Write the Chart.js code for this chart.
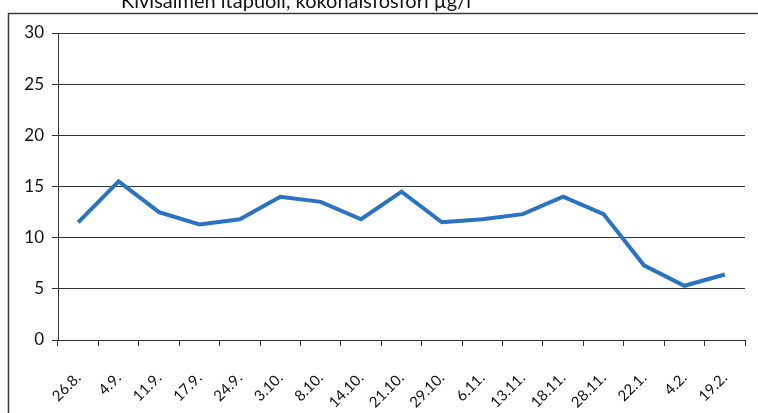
<!DOCTYPE html>
<html>
<head>
<meta charset="utf-8">
<script src="https://cdn.jsdelivr.net/npm/chart.js@4"></script>
<style>
  html, body { margin: 0; padding: 0; background: #fff; }
  #wrap { position: relative; width: 758px; height: 413px; }
</style>
</head>
<body>
<div id="wrap"><canvas id="c" width="758" height="413"></canvas></div>
<script>
// Sampling dates and total phosphorus (µg/l)
const chartTitle = 'Kivisalmen itäpuoli, kokonaisfosfori µg/l';
const dates = ['26.8.', '4.9.', '11.9.', '17.9.', '24.9.', '3.10.', '8.10.', '14.10.', '21.10.',
               '29.10.', '6.11.', '13.11.', '18.11.', '28.11.', '22.1.', '4.2.', '19.2.'];
const phosphorus = [11.5, 15.5, 12.5, 11.3, 11.8, 14.0, 13.5, 11.8, 14.5,
                    11.5, 11.8, 12.3, 14.0, 12.3, 7.3, 5.3, 6.4];
const yTicks = [0, 5, 10, 15, 20, 25, 30];

const fontFamily = 'Lato, "Open Sans", sans-serif';

// Outer frame and the title that sits above it
const framePlugin = {
  id: 'frame',
  beforeDraw(chart) {
    const ctx = chart.ctx;
    ctx.save();
    ctx.fillStyle = '#fff';
    ctx.fillRect(0, 0, chart.width, chart.height);
    ctx.strokeStyle = '#3a3a3a';
    ctx.lineWidth = 1.5;
    ctx.beginPath();
    ctx.moveTo(8.5, chart.height + 2);
    ctx.lineTo(8.5, 13.5);
    ctx.lineTo(chart.width + 2, 13.5);
    ctx.stroke();
    ctx.fillStyle = '#111';
    ctx.font = '20px ' + fontFamily;
    ctx.textAlign = 'center';
    ctx.textBaseline = 'alphabetic';
    ctx.fillText(chartTitle, 296, 8);
    ctx.restore();
  }
};

new Chart(document.getElementById('c'), {
  type: 'line',
  data: {
    labels: dates,
    datasets: [{
      data: phosphorus,
      borderColor: '#2a72c2',
      borderWidth: 4,
      pointRadius: 0,
      tension: 0,
      fill: false
    }]
  },
  options: {
    responsive: false,
    animation: false,
    devicePixelRatio: 1,
    layout: { padding: { left: 8, right: 13, top: 33, bottom: 0 } },
    plugins: {
      legend: { display: false },
      tooltip: { enabled: false },
      title: { display: false }
    },
    scales: {
      x: {
        offset: true,
        grid: {
          offset: true,
          drawOnChartArea: false,
          drawTicks: true,
          tickLength: 6,
          color: '#333',
          lineWidth: 1
        },
        border: { display: true, color: '#333', width: 1 },
        ticks: {
          color: '#111',
          font: { family: fontFamily, size: 15 },
          maxRotation: 45,
          minRotation: 45,
          autoSkip: false,
          padding: 23
        },
        afterFit(scale) {
          scale.height = 73;
          scale.paddingLeft = 0;
          scale.paddingRight = 0;
        }
      },
      y: {
        min: 0,
        max: 30,
        afterBuildTicks(scale) { scale.ticks = yTicks.map(v => ({ value: v })); },
        grid: {
          color: '#333',
          lineWidth: 1,
          drawTicks: true,
          tickLength: 6
        },
        border: { display: true, color: '#333', width: 1 },
        ticks: {
          color: '#111',
          font: { family: fontFamily, size: 17 },
          padding: 8
        },
        afterFit(scale) { scale.width = 50; }
      }
    }
  },
  plugins: [framePlugin]
});
</script>
</body>
</html>
